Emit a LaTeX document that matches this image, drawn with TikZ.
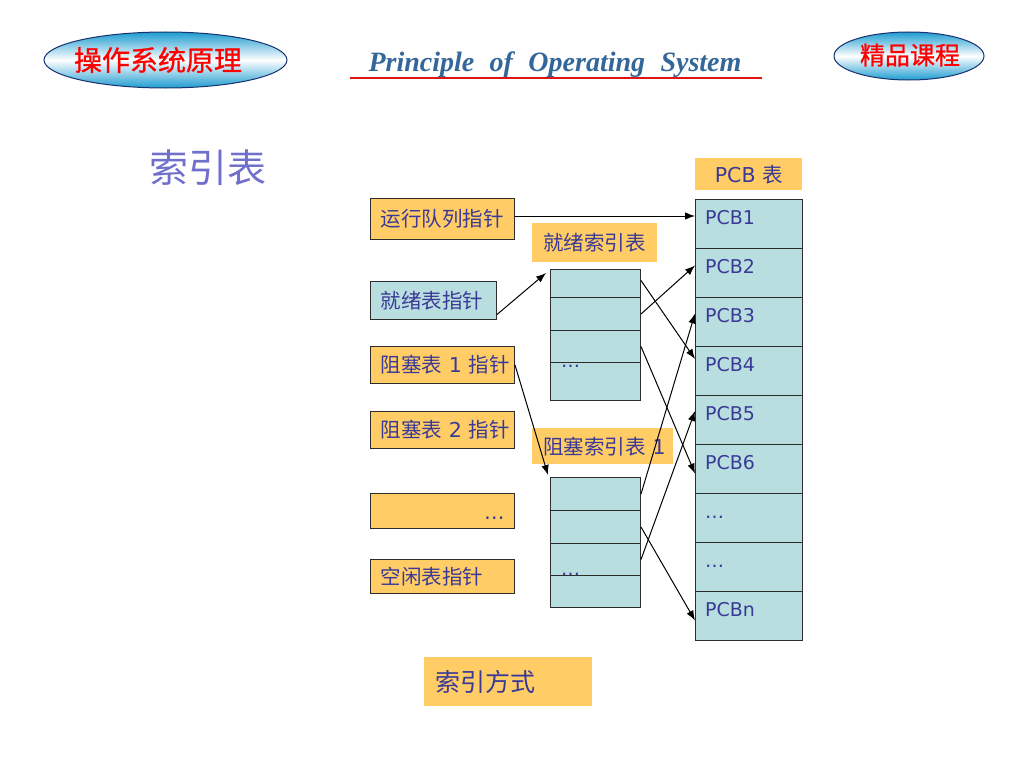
\documentclass[tikz,border=0pt]{standalone}
\usepackage{fontspec}
\setmainfont{DejaVu Sans}
\newfontfamily\cjk{Noto Sans CJK SC}
\newfontfamily\cjkhead{Noto Sans CJK SC}[FakeBold=0.8]
\newfontfamily\headfont{Liberation Serif}[WordSpace=2.2]
\usetikzlibrary{arrows.meta,shapes.geometric}
\definecolor{orng}{RGB}{255,204,102}
\definecolor{lblue}{RGB}{185,222,224}
\definecolor{txt}{RGB}{58,58,150}
\definecolor{titlec}{RGB}{112,112,204}
\definecolor{headc}{RGB}{51,102,153}
\definecolor{linec}{RGB}{225,20,20}
\definecolor{ellblue}{RGB}{30,156,208}
\definecolor{ellline}{RGB}{25,50,110}
\definecolor{boxline}{RGB}{45,45,45}
\begin{document}
\begin{tikzpicture}[x=1pt,y=-1pt,
  badge/.style={ellipse, draw=ellline, line width=1pt, top color=ellblue,
    bottom color=ellblue, middle color=white, inner sep=0pt},
  badgetext/.style={text=red, font=\cjkhead\fontsize{#1}{#1}\selectfont},
  ptr/.style={draw=boxline, line width=1pt, fill=orng, text=txt, anchor=north west,
    inner xsep=0pt, inner ysep=0pt, text width=144pt, align=left,
    font=\fontsize{20.5}{24}\selectfont},
  tag/.style={fill=orng, text=txt, anchor=north west, inner sep=0pt,
    font=\fontsize{20.5}{24}\selectfont},
  cell/.style={draw=boxline, line width=1pt, fill=lblue, anchor=north west,
    inner sep=0pt, minimum width=90pt},
  pcb/.style={draw=boxline, line width=1pt, fill=lblue, anchor=north west,
    inner sep=0pt, minimum width=107pt, minimum height=49pt},
  pcbtxt/.style={text=txt, anchor=base west, inner sep=0pt,
    font=\fontsize{19}{23}\selectfont},
  link/.style={draw=black, line width=1pt, -{Latex[length=10pt,width=7.5pt]}}]
\useasboundingbox (0,0) rectangle (1024,768);

% header
\node[badge, minimum width=243pt, minimum height=56pt] (lbadge) at (165.5,60) {};
\node[badgetext=28] (ltitle) at (158,60) {操作系统原理};
\node[badge, minimum width=150pt, minimum height=48pt] (rbadge) at (909,56) {};
\node[badgetext=25] (rtitle) at (910,55) {精品课程};
\node[text=headc, anchor=base, inner sep=0pt,
  font=\headfont\bfseries\itshape\fontsize{28}{30}\selectfont] (head) at (555,71)
  {Principle of Operating System};
\coordinate (ulA) at (350,77.5);
\coordinate (ulB) at (762,77.5);
\draw[draw=linec, line width=2pt] (ulA) -- (ulB);

% page title
\node[text=titlec, inner sep=0pt, font=\cjk\fontsize{39}{44}\selectfont] (ptitle) at (208,168) {索引表};

% pointer boxes
\node[ptr, minimum height=41pt] (run) at (370,198) {\hspace*{10pt}\cjk 运行队列指针};
\node[ptr, fill=lblue, text width=126pt, minimum height=38pt] (rdp) at (370,281) {\hspace*{10pt}\cjk 就绪表指针};
\node[ptr, minimum height=37pt] (b1p) at (370,346) {\hspace*{10pt}{\cjk 阻塞表} 1 {\cjk 指针}};
\node[ptr, minimum height=37pt] (b2p) at (370,411) {\hspace*{10pt}{\cjk 阻塞表} 2 {\cjk 指针}};
\node[ptr, minimum height=35pt, align=right] (more) at (370,493) {\smash{\raisebox{-8.5pt}{…}}\hspace*{10pt}};
\node[ptr, minimum height=34pt] (freep) at (370,559) {\hspace*{10pt}\cjk 空闲表指针};

% captions
\node[tag, minimum height=39pt, text width=125pt, align=left] (rdtag) at (532,223)
  {\hspace*{11pt}\cjk 就绪索引表};
\node[tag, minimum height=36pt, text width=141pt, align=left] (bltag) at (532,428)
  {\hspace*{11pt}{\cjk 阻塞索引表} 1};
\node[tag, minimum width=107pt, minimum height=32pt] (pcbtag) at (695,158) {PCB {\cjk 表}};
\node[tag, minimum height=49pt, text width=168pt, align=left,
  font=\fontsize{25}{28}\selectfont] (waytag) at (424,657)
  {\hspace*{11pt}\raisebox{2pt}{\cjk 索引方式}};

% ready index table
\node[cell, minimum height=28pt] (r1) at (550,269) {};
\node[cell, minimum height=33pt] (r2) at (550,297) {};
\node[cell, minimum height=32pt] (r3) at (550,330) {};
\node[cell, minimum height=38pt] (r4) at (550,362) {};
\node[pcbtxt] (rdots) at ([xshift=11pt,yshift=-4pt]r3.south west) {…};

% blocked index table
\node[cell, minimum height=33pt] (k1) at (550,477) {};
\node[cell, minimum height=33pt] (k2) at (550,510) {};
\node[cell, minimum height=32pt] (k3) at (550,543) {};
\node[cell, minimum height=32pt] (k4) at (550,575) {};
\node[pcbtxt] (kdots) at ([xshift=11pt,yshift=1pt]k3.south west) {…};

% PCB table
\foreach \i/\t in {1/PCB1,2/PCB2,3/PCB3,4/PCB4,5/PCB5,6/PCB6,7/…,8/…,9/PCBn}{
  \node[pcb] (p\i) at (695,{199+49*(\i-1)}) {};
  \node[pcbtxt] (t\i) at ([xshift=10pt,yshift=-25pt]p\i.north west) {\t};
}

% pointers
\draw[link] ([yshift=3pt]run.east) -- ([yshift=3pt]run.east -| p1.west);
\draw[link] ([yshift=-14pt]rdp.east) -- ([xshift=-4pt,yshift=-4pt]r1.north west);
\draw[link] (b1p.east) -- ([xshift=-2pt,yshift=2pt]k1.north west);
\draw[link] ([yshift=3pt]r1.east) -- ([yshift=12pt]p4.west);
\draw[link] (r2.east) -- ([yshift=7.5pt]p2.west);
\draw[link] (r3.east) -- ([yshift=-4.5pt]p6.west);
\draw[link] (k1.east) -- ([yshift=8.5pt]p3.west);
\draw[link] (k2.east) -- ([yshift=-4.5pt]p9.west);
\draw[link] (k3.east) -- ([yshift=9pt]p5.west);
\end{tikzpicture}
\end{document}
